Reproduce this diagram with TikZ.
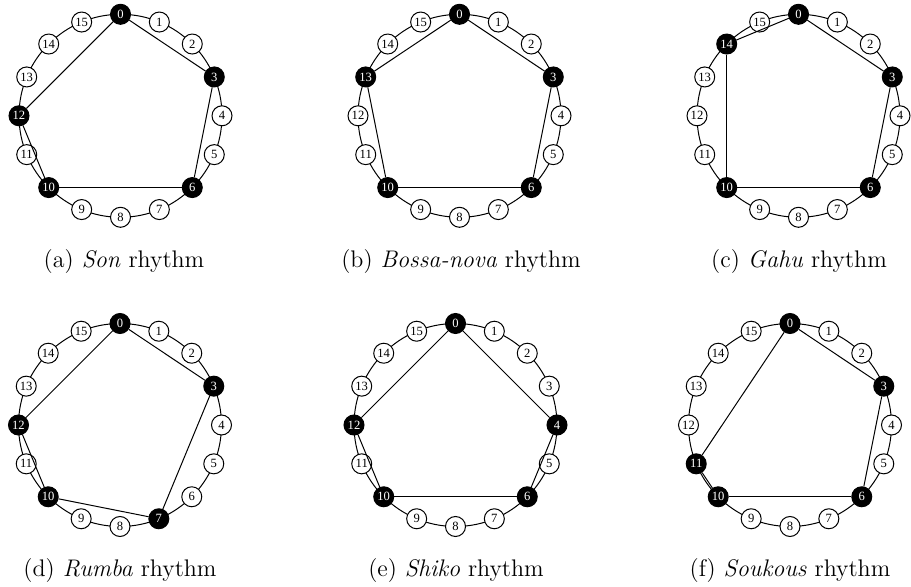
\documentclass[tikz,border=0pt]{standalone}
\usepackage{fontspec}
\newfontfamily\numfont{Liberation Serif}
\tikzset{
  ring/.style={line width=0.5pt},
  chord/.style={line width=0.5pt},
  wnode/.style={circle, draw, line width=0.5pt, fill=white, minimum size=10pt, inner sep=0pt, font=\numfont\fontsize{6.3}{7}\selectfont},
  bnode/.style={circle, draw, line width=0.5pt, fill=black, text=white, minimum size=10pt, inner sep=0pt, font=\numfont\fontsize{6.3}{7}\selectfont},
  captext/.style={anchor=base, inner sep=0pt, font=\fontsize{12}{14}\selectfont},
}
\newcommand\rhy[5]{%
  \draw[ring] (#2,#3) circle[radius=101.5];
  \foreach \k in {0,...,15}{%
    \gdef\sty{wnode}%
    \foreach \b in {#4}{\ifnum\k=\b\relax\gdef\sty{bnode}\fi}%
    \node[\sty] (#1\k) at ({#2+101.5*cos(22.5*\k-90)},{#3+101.5*sin(22.5*\k-90)}) {\k};
  }
  \foreach \u/\v in {#5}{\draw[chord] (#1\u) -- (#1\v);}
}
\begin{document}
\begin{tikzpicture}[x=0.5pt,y=-0.5pt]
\useasboundingbox (0,0) rectangle (911,587);
\rhy{a}{120.5}{115.8}{0,3,6,10,12}{0/3,3/6,6/10,10/12,12/0}
\rhy{b}{459.5}{115.8}{0,3,6,10,13}{0/3,3/6,6/10,10/13,13/0}
\rhy{c}{798.5}{115.8}{0,3,6,10,14}{0/3,3/6,6/10,10/14,14/0}
\rhy{d}{120}{425}{0,3,7,10,12}{0/3,3/7,7/10,10/12,12/0}
\rhy{e}{455.5}{425}{0,4,6,10,12}{0/4,4/6,6/10,10/12,12/0}
\rhy{f}{790}{425}{0,3,6,10,11}{0/3,3/6,6/10,10/11,11/0}
\node[captext] (capa) at (124,268) {(a)\hspace{4pt}\textit{Son} rhythm};
\node[captext] (capb) at (461,268) {(b)\hspace{4pt}\textit{Bossa-nova} rhythm};
\node[captext] (capc) at (799,268) {(c)\hspace{4pt}\textit{Gahu} rhythm};
\node[captext] (capd) at (120,577) {(d)\hspace{4pt}\textit{Rumba} rhythm};
\node[captext] (cape) at (456,577) {(e)\hspace{4pt}\textit{Shiko} rhythm};
\node[captext] (capf) at (790,577) {(f)\hspace{4pt}\textit{Soukous} rhythm};
\end{tikzpicture}
\end{document}
